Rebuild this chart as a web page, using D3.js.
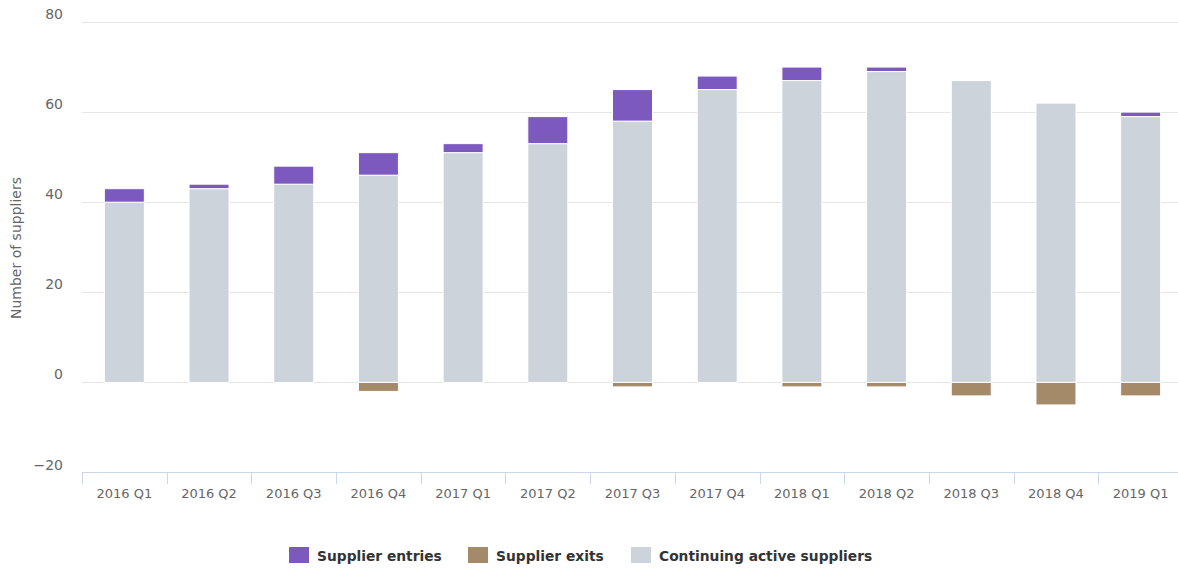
<!DOCTYPE html>
<html><head><meta charset="utf-8">
<script src="https://cdn.jsdelivr.net/npm/d3@7"></script>
<style>
html,body{margin:0;padding:0;background:#fff;overflow:hidden}
svg{display:block}
text{font-family:"DejaVu Sans",sans-serif}
</style></head><body>
<svg id="c" width="1178" height="568"></svg>
<script>
const categories = ["2016 Q1","2016 Q2","2016 Q3","2016 Q4","2017 Q1","2017 Q2","2017 Q3","2017 Q4","2018 Q1","2018 Q2","2018 Q3","2018 Q4","2019 Q1"];
const continuing = [40,43,44,46,51,53,58,65,67,69,67,62,59];
const entries    = [3,1,4,5,2,6,7,3,3,1,0,0,1];
const exits      = [0,0,0,-2,0,0,-1,0,-1,-1,-3,-5,-3];
const yTicks = [-20,0,20,40,60,80];
const seriesNames = ["Supplier entries","Supplier exits","Continuing active suppliers"];
const colors = ["#7c59bf","#a58a69","#ccd3da"];

(function(){
const svg = d3.select("#c");
const pLeft = 82, pRight = 1183, pTop = 22, pBottom = 472.5;
const x = d3.scaleBand().domain(categories).range([pLeft, pRight]).padding(0);
const y = d3.scaleLinear().domain([-20, 80]).range([pBottom, pTop]);

svg.append("g").selectAll("line").data(yTicks.filter(t => t > -20)).join("line")
  .attr("x1", pLeft).attr("x2", 1178)
  .attr("y1", d => Math.round(y(d)) + 0.5).attr("y2", d => Math.round(y(d)) + 0.5)
  .attr("stroke", "#e6e6e6").attr("stroke-width", 1);

svg.append("g").selectAll("text").data(yTicks).join("text")
  .attr("x", 63).attr("y", d => y(d) - 3)
  .attr("text-anchor", "end").attr("fill", "#666").attr("font-size", 14)
  .text(d => d < 0 ? "\u2212" + Math.abs(d) : d);

svg.append("text").attr("transform", "translate(21,248) rotate(-90)")
  .attr("text-anchor", "middle").attr("fill", "#666").attr("font-size", 14)
  .text("Number of suppliers");

const bw = 40;
const g = svg.append("g");
const cx = d => x(d) + x.bandwidth() / 2 - bw / 2;
g.selectAll("rect.cont").data(categories).join("rect").attr("class", "cont")
  .attr("x", cx).attr("width", bw)
  .attr("y", (d, i) => y(continuing[i])).attr("height", (d, i) => y(0) - y(continuing[i]))
  .attr("fill", colors[2]).attr("stroke", "#fff").attr("stroke-width", 1);
g.selectAll("rect.ent").data(categories.filter((d, i) => entries[i] > 0)).join("rect").attr("class", "ent")
  .attr("x", cx).attr("width", bw)
  .attr("y", d => { const i = categories.indexOf(d); return y(continuing[i] + entries[i]); })
  .attr("height", d => { const i = categories.indexOf(d); return y(continuing[i]) - y(continuing[i] + entries[i]); })
  .attr("fill", colors[0]).attr("stroke", "#fff").attr("stroke-width", 1);
g.selectAll("rect.ex").data(categories.filter((d, i) => exits[i] < 0)).join("rect").attr("class", "ex")
  .attr("x", cx).attr("width", bw)
  .attr("y", y(0))
  .attr("height", d => { const i = categories.indexOf(d); return y(exits[i]) - y(0); })
  .attr("fill", colors[1]).attr("stroke", "#fff").attr("stroke-width", 1);

const xa = svg.append("g");
xa.append("line").attr("x1", pLeft).attr("x2", 1178).attr("y1", 472.5).attr("y2", 472.5).attr("stroke", "#ccd6eb");
xa.selectAll("line.t").data(categories).join("line").attr("class", "t")
  .attr("x1", d => Math.round(x(d)) + 0.5).attr("x2", d => Math.round(x(d)) + 0.5)
  .attr("y1", 472.5).attr("y2", 484).attr("stroke", "#ccd6eb");
xa.selectAll("text").data(categories).join("text")
  .attr("x", d => x(d) + x.bandwidth() / 2).attr("y", 498)
  .attr("text-anchor", "middle").attr("fill", "#666").attr("font-size", 13)
  .text(d => d);

const legendX = [289, 468, 631];
const lg = svg.append("g");
seriesNames.forEach((n, i) => {
  lg.append("rect").attr("x", legendX[i]).attr("y", 547).attr("width", 20).attr("height", 16)
    .attr("fill", colors[i]);
  lg.append("text").attr("x", legendX[i] + 28).attr("y", 560.5)
    .attr("fill", "#333").attr("font-size", 13.8).attr("font-weight", "bold").text(n);
});
})();
</script>
</body></html>
